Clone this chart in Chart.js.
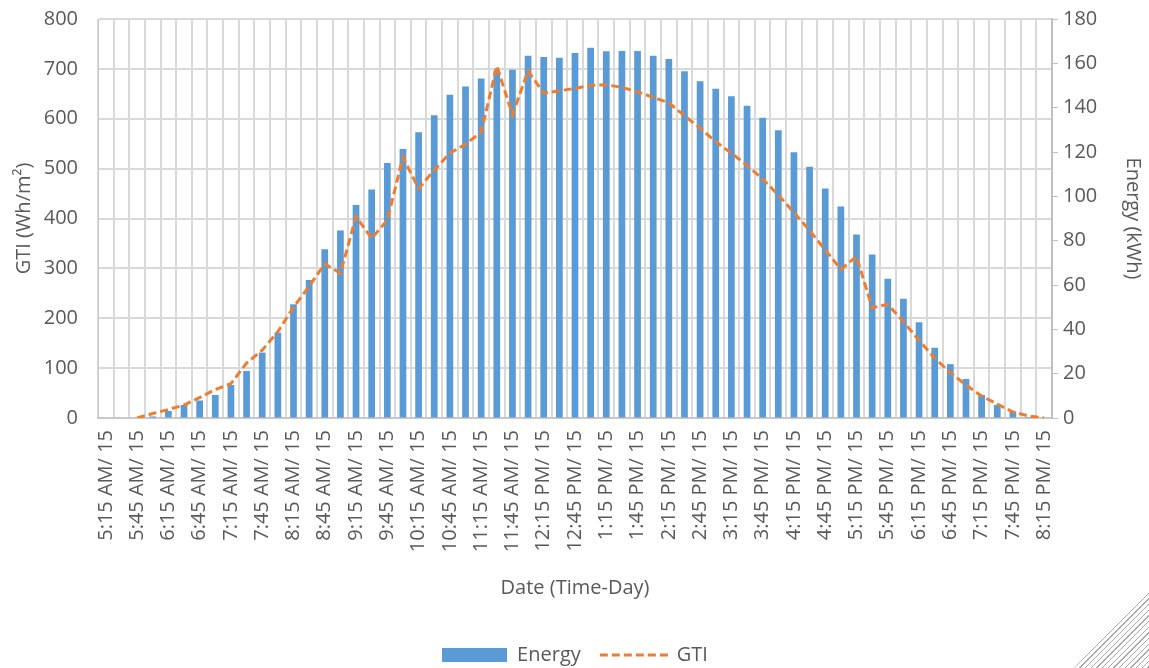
<!DOCTYPE html>
<html>
<head>
<meta charset="utf-8">
<script src="https://cdn.jsdelivr.net/npm/chart.js@4"></script>
<style>
  html, body { margin: 0; padding: 0; background: #ffffff; }
  #wrap { position: relative; width: 1149px; height: 668px; }
  #hatch {
    position: absolute; right: 0; bottom: 0; width: 75px; height: 80px;
    background: repeating-linear-gradient(135deg, #a8a8a8 0px, #a8a8a8 1px, transparent 1px, transparent 4px);
    clip-path: polygon(100% 0, 100% 100%, 0 100%);
  }
</style>
</head>
<body>
<div id="wrap">
  <canvas id="c" width="1149" height="668"></canvas>
  <div id="hatch"></div>
</div>
<script>
// Categories: 15-minute steps (labels shown every 30 minutes)
const categories = [
  "5:15 AM/ 15","5:30 AM/ 15","5:45 AM/ 15","6:00 AM/ 15","6:15 AM/ 15","6:30 AM/ 15",
  "6:45 AM/ 15","7:00 AM/ 15","7:15 AM/ 15","7:30 AM/ 15","7:45 AM/ 15","8:00 AM/ 15",
  "8:15 AM/ 15","8:30 AM/ 15","8:45 AM/ 15","9:00 AM/ 15","9:15 AM/ 15","9:30 AM/ 15",
  "9:45 AM/ 15","10:00 AM/ 15","10:15 AM/ 15","10:30 AM/ 15","10:45 AM/ 15","11:00 AM/ 15",
  "11:15 AM/ 15","11:30 AM/ 15","11:45 AM/ 15","12:00 PM/ 15","12:15 PM/ 15","12:30 PM/ 15",
  "12:45 PM/ 15","1:00 PM/ 15","1:15 PM/ 15","1:30 PM/ 15","1:45 PM/ 15","2:00 PM/ 15",
  "2:15 PM/ 15","2:30 PM/ 15","2:45 PM/ 15","3:00 PM/ 15","3:15 PM/ 15","3:30 PM/ 15",
  "3:45 PM/ 15","4:00 PM/ 15","4:15 PM/ 15","4:30 PM/ 15","4:45 PM/ 15","5:00 PM/ 15",
  "5:15 PM/ 15","5:30 PM/ 15","5:45 PM/ 15","6:00 PM/ 15","6:15 PM/ 15","6:30 PM/ 15",
  "6:45 PM/ 15","7:00 PM/ 15","7:15 PM/ 15","7:30 PM/ 15","7:45 PM/ 15","8:00 PM/ 15",
  "8:15 PM/ 15"
];

// Energy (kWh) - bars, right axis
const energyKWh = [
  0, 0, 0, 0.7, 3.2, 5.9, 7.9, 10.4, 14.9, 21.2, 29.5, 38.5,
  51.3, 62.3, 76.1, 84.6, 96.1, 103.1, 115.0, 121.3, 128.9, 136.6, 145.8, 149.6,
  153.2, 156.8, 157.1, 163.4, 162.9, 162.5, 164.7, 167.0, 165.4, 165.6, 165.6, 163.4,
  162.0, 156.4, 151.9, 148.5, 145.1, 140.9, 135.5, 129.8, 119.9, 113.4, 103.5, 95.4,
  82.8, 73.8, 62.8, 53.8, 43.2, 31.7, 24.3, 17.6, 10.4, 5.9, 2.9, 0.5,
  0
];

// GTI (Wh/m2) - dashed line, left axis
const gtiWh = [
  null, null, 0, 9, 17, 26, 41, 57, 69, 110, 136, 173,
  222, 264, 309, 290, 404, 360, 397, 523, 460, 497, 531, 549,
  573, 706, 608, 696, 651, 656, 661, 667, 668, 663, 654, 643,
  632, 606, 581, 554, 531, 507, 479, 447, 412, 376, 337, 298,
  324, 221, 228, 193, 156, 120, 91, 66, 44, 28, 12, 4,
  0
];

const gtiAxis = { min: 0, max: 800, step: 100 };
const energyAxis = { min: 0, max: 180, step: 20 };

const FONT = "'Open Sans', 'Liberation Sans', sans-serif";
const TXT = '#595959';
const BLUE = '#5b9bd5';
const ORANGE = '#ed7d31';

// Legend sample images
function legendBox() {
  const c = document.createElement('canvas');
  c.width = 65; c.height = 14;
  const g = c.getContext('2d');
  g.fillStyle = BLUE; g.fillRect(0, 0, 65, 14);
  return c;
}
function legendDash() {
  const c = document.createElement('canvas');
  c.width = 68; c.height = 4;
  const g = c.getContext('2d');
  g.strokeStyle = ORANGE; g.lineWidth = 3; g.setLineDash([8, 4]);
  g.beginPath(); g.moveTo(0, 2); g.lineTo(68, 2); g.stroke();
  return c;
}

new Chart(document.getElementById('c'), {
  data: {
    labels: categories,
    datasets: [
      {
        type: 'bar', label: 'Energy', data: energyKWh, yAxisID: 'y1',
        backgroundColor: BLUE, borderWidth: 0,
        barPercentage: 0.43, categoryPercentage: 1.0,
        pointStyle: legendBox(), order: 2
      },
      {
        type: 'line', label: 'GTI', data: gtiWh, yAxisID: 'y',
        borderColor: ORANGE, backgroundColor: ORANGE,
        borderWidth: 3, borderDash: [8, 4], pointRadius: 0,
        tension: 0, fill: false, spanGaps: false,
        pointStyle: legendDash(), order: 1
      }
    ]
  },
  options: {
    responsive: false,
    animation: false,
    layout: { padding: { left: 0, right: 0, top: 19, bottom: -7 } },
    plugins: {
      tooltip: { enabled: false },
      legend: {
        position: 'bottom',
        labels: {
          usePointStyle: true, pointStyleWidth: 66, boxWidth: 66, boxHeight: 14,
          padding: 20, color: TXT, font: { family: FONT, size: 20 },
          sort: function (a, b) { return a.datasetIndex - b.datasetIndex; }
        }
      }
    },
    scales: {
      x: {
        type: 'category',
        offset: true,
        grid: { offset: true, color: '#d9d9d9', lineWidth: 2, drawTicks: false },
        border: { color: '#c8c8c8', width: 2 },
        ticks: {
          autoSkip: false, minRotation: 90, maxRotation: 90, padding: 12,
          color: TXT, font: { family: FONT, size: 20 },
          callback: function (v, i) { return i % 2 === 0 ? categories[i] : ''; }
        },
        title: { display: true, text: 'Date (Time-Day)', color: TXT, font: { family: FONT, size: 20 }, padding: { top: 0, bottom: 25 } },
        afterFit: function (s) { s.height = 207; }
      },
      y: {
        position: 'left',
        min: gtiAxis.min, max: gtiAxis.max,
        grid: { color: '#d9d9d9', lineWidth: 2, drawTicks: true, tickLength: 18, tickColor: 'rgba(0,0,0,0)' },
        border: { color: '#c8c8c8', width: 1 },
        ticks: { stepSize: gtiAxis.step, padding: 2, color: TXT, font: { family: FONT, size: 20 } },
        title: { display: true, text: 'GTI (Wh/m²)', color: TXT, font: { family: FONT, size: 20 }, padding: { top: 12, bottom: 0 } },
        afterFit: function (s) { s.width = 98; }
      },
      y1: {
        position: 'right',
        min: energyAxis.min, max: energyAxis.max,
        grid: { drawOnChartArea: false, color: '#bfbfbf', lineWidth: 1, tickLength: 6 },
        border: { color: '#bfbfbf', width: 2 },
        ticks: { stepSize: energyAxis.step, padding: 5, color: TXT, font: { family: FONT, size: 20 } },
        title: { display: true, text: 'Energy (kWh)', color: TXT, font: { family: FONT, size: 20 }, padding: { top: 4, bottom: 0 } },
        afterFit: function (s) { s.width = 97; }
      }
    }
  }
});
</script>
</body>
</html>
